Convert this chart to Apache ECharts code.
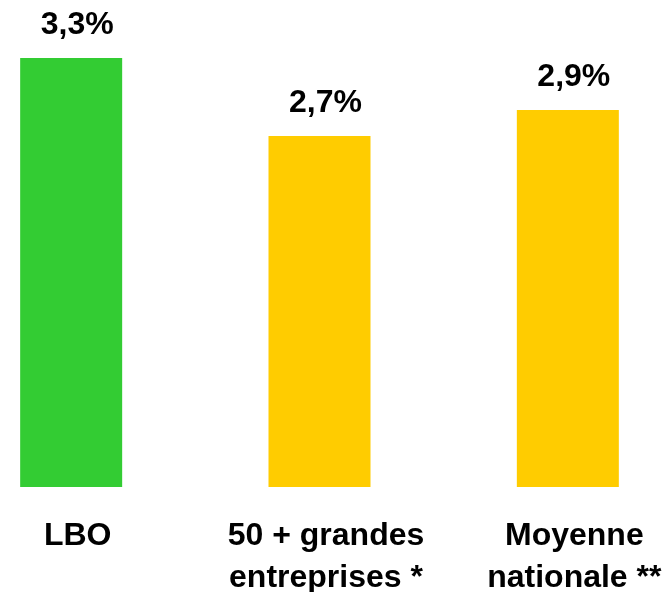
<!DOCTYPE html>
<html>
<head>
<meta charset="utf-8">
<script src="https://cdn.jsdelivr.net/npm/echarts@6/dist/echarts.min.js"></script>
<style>html,body{margin:0;padding:0;background:#fff}#c{width:666px;height:592px}</style>
</head>
<body>
<div id="c"></div>
<script>
const categories = ['LBO', '50 + grandes\nentreprises *', 'Moyenne\nnationale **'];
const values = [3.3, 2.7, 2.9];
const colors = ['#33CC33', '#FFCC00', '#FFCC00'];

const chart = echarts.init(document.getElementById('c'), null, {renderer: 'canvas'});
chart.setOption({
  animation: false,
  grid: {left: -53, right: -26, top: 58, bottom: 105, containLabel: false, outerBoundsMode: 'none'},
  xAxis: {
    type: 'category',
    data: categories,
    axisLine: {show: false},
    axisTick: {show: false},
    axisLabel: {
      margin: 28,
      interval: 0,
      color: '#000',
      fontFamily: 'Liberation Sans, Arial, sans-serif',
      fontWeight: 'bold',
      fontSize: 32,
      lineHeight: 42,
      padding: [0, 0, 0, 13]
    }
  },
  yAxis: {type: 'value', min: 0, max: 3.3, show: false, splitLine: {show: false}},
  series: [{
    type: 'bar',
    barWidth: 102,
    data: values.map((v, i) => ({value: v, itemStyle: {color: colors[i]}})),
    label: {
      show: true,
      position: 'top',
      distance: 17,
      offset: [6, 0],
      color: '#000',
      fontFamily: 'Liberation Sans, Arial, sans-serif',
      fontWeight: 'bold',
      fontSize: 32,
      formatter: p => p.value.toFixed(1).replace('.', ',') + '%'
    }
  }]
});
</script>
</body>
</html>
